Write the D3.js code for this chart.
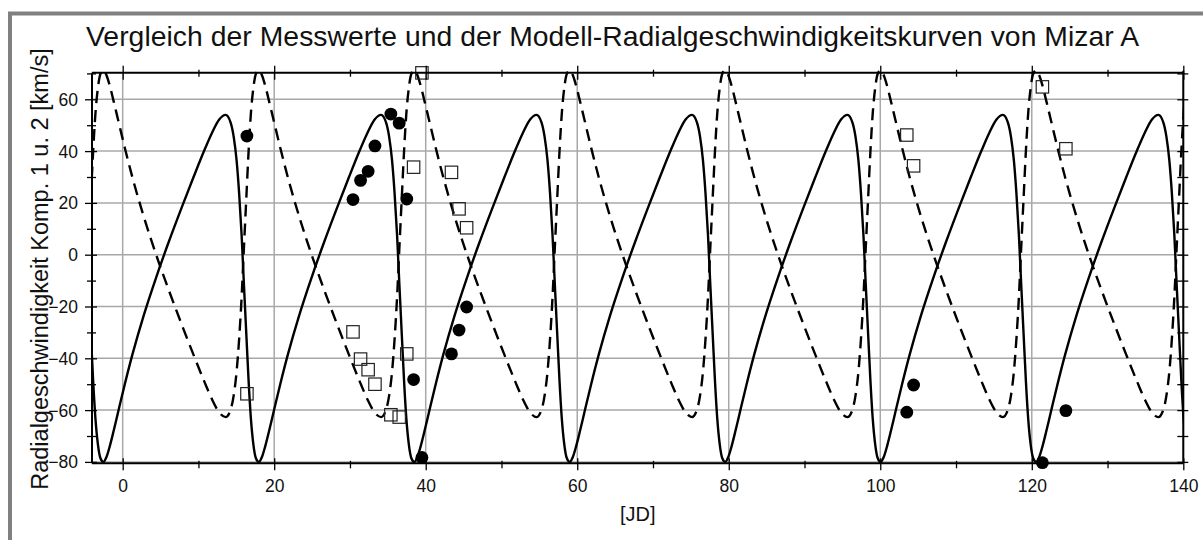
<!DOCTYPE html>
<html><head><meta charset="utf-8">
<script src="https://cdn.jsdelivr.net/npm/d3@7"></script>
<style>
html,body{margin:0;padding:0;background:#fff;}
svg{display:block;}
text{font-family:"Liberation Sans", Arial, sans-serif; fill:#111;}
</style></head><body>
<svg id="chart" width="1203" height="540"></svg>
<script>
const titleText = "Vergleich der Messwerte und der Modell-Radialgeschwindigkeitskurven von Mizar A";
const yLabelText = "Radialgeschwindigkeit Komp. 1 u. 2 [km/s]";
const xLabelText = "[JD]";
const xTicks = [0, 20, 40, 60, 80, 100, 120, 140];
const xMinorTicks = [10, 30, 50, 70, 90, 110, 130];
const yTicks = [-80, -60, -40, -20, 0, 20, 40, 60];
const yMinorTicks = [-70, -50, -30, -10, 10, 30, 50, 70];

// measured radial velocities (filled circles: component 1, open squares: component 2)
const obsJD    = [16.4, 30.4, 31.4, 32.4, 33.3, 35.4, 36.5, 37.5, 38.4, 39.5, 43.4, 44.4, 45.4, 103.5, 104.4, 121.4, 124.5];
const obsComp1 = [45.8, 21.3, 28.7, 32.2, 42.0, 54.3, 50.8, 21.5, -48.2, -78.3, -38.3, -29.1, -20.2, -60.8, -50.3, -80.3, -60.2];
const obsComp2 = [-53.7, -29.8, -40.3, -44.4, -50.0, -61.8, -62.7, -38.3, 33.8, 70.2, 31.8, 17.7, 10.4, 46.2, 34.3, 64.8, 40.9];

const cycleStartJD = [-4.20, 16.32, 36.84, 57.36, 77.88, 98.40, 118.92, 139.44];
const cycleDays  = [0, 0.30, 0.60, 0.93, 1.27, 1.65, 2.06, 2.51, 3.01, 3.56, 4.47, 5.48, 6.97, 8.58, 10.25, 11.92, 13.53, 15.02, 16.03, 16.94, 17.79, 18.44, 18.85, 19.23, 19.57, 19.90, 20.20];
const modelComp1 = [-30.7, -48.6, -63.1, -73.2, -78.6, -80.0, -78.1, -73.8, -68.0, -61.2, -50.1, -38.6, -23.5, -9.1, 4.7, 17.7, 29.8, 40.6, 47.3, 52.2, 54.0, 51.1, 45.6, 36.6, 23.8, 7.5, -11.3];
const modelComp2 = [21.9, 39.9, 54.4, 64.4, 69.9, 71.2, 69.3, 65.1, 59.2, 52.5, 41.4, 29.9, 14.8, 0.3, -13.4, -26.4, -38.5, -49.3, -56.1, -60.9, -62.7, -59.9, -54.4, -45.4, -32.6, -16.3, 2.5];

const svg = d3.select("#chart");
const x = d3.scaleLinear().domain([-4.05, 140]).range([92, 1183.3]);
const y = d3.scaleLinear().domain([-80.54, 70.27]).range([463.3, 72.7]);
const X0 = x.range()[0], X1 = x.range()[1], Y0 = y.range()[0], Y1 = y.range()[1];

// outer grey frame
svg.append("rect").attr("x", 10).attr("y", 13.5).attr("width", 1300).attr("height", 700)
  .attr("fill", "none").attr("stroke", "#808080").attr("stroke-width", 4);

// grid
const grid = svg.append("g").attr("stroke", "#a8a8a8").attr("stroke-width", 1.5);
grid.selectAll("line.v").data(xTicks).join("line")
  .attr("x1", d => x(d)).attr("x2", d => x(d)).attr("y1", Y1).attr("y2", Y0);
grid.selectAll("line.h").data(yTicks).join("line").attr("class", "h")
  .attr("x1", X0).attr("x2", X1).attr("y1", d => y(d)).attr("y2", d => y(d));

// model series
function modelSeries(vals) {
  const pts = [];
  cycleStartJD.forEach(s => cycleDays.forEach((dd, i) => pts.push([s + dd, vals[i]])));
  return pts;
}
svg.append("clipPath").attr("id", "clip").append("rect")
  .attr("x", X0).attr("y", Y1 - 6).attr("width", X1 - X0).attr("height", Y0 - Y1 + 12);
const line = d3.line().x(d => x(d[0])).y(d => y(d[1])).curve(d3.curveMonotoneX);
const curves = svg.append("g").attr("clip-path", "url(#clip)").attr("fill", "none")
  .attr("stroke", "#000").attr("stroke-width", 2.4).attr("stroke-linejoin", "round");
curves.append("path").attr("d", line(modelSeries(modelComp2))).attr("stroke-dasharray", "12,7");
curves.append("path").attr("d", line(modelSeries(modelComp1)));

// measurements
const obs = obsJD.map((d, i) => ({jd: d, v1: obsComp1[i], v2: obsComp2[i]}));
svg.append("g").selectAll("rect").data(obs).join("rect")
  .attr("x", d => x(d.jd) - 6.2).attr("y", d => y(d.v2) - 6.2).attr("width", 12.4).attr("height", 12.4)
  .attr("fill", "none").attr("stroke", "#222").attr("stroke-width", 1.2);
svg.append("g").selectAll("circle").data(obs).join("circle")
  .attr("cx", d => x(d.jd)).attr("cy", d => y(d.v1)).attr("r", 6.4).attr("fill", "#000");

// axes
function styleAxis(g, a, b, horizontal) {
  g.select(".domain").remove();
  g.selectAll(".tick line").attr("stroke", "#000").attr("stroke-width", 1.3)
    .attr(horizontal ? "y1" : "x1", a).attr(horizontal ? "y2" : "x2", b);
}
// bottom
const gb = svg.append("g").attr("transform", `translate(0,${Y0})`)
  .call(d3.axisBottom(x).tickValues(xTicks).tickFormat(d3.format("d")).tickSize(7));
styleAxis(gb, -5, 7, true);
gb.selectAll(".tick text").attr("y", 29).attr("dy", 0).attr("font-size", 17.5).attr("fill", "#111")
  .attr("font-family", "Liberation Sans, Arial, sans-serif");
const gbm = svg.append("g").attr("transform", `translate(0,${Y0})`)
  .call(d3.axisBottom(x).tickValues(xMinorTicks).tickFormat("").tickSize(5));
styleAxis(gbm, -2.5, 5, true);
// top
const gt = svg.append("g").attr("transform", `translate(0,${Y1})`)
  .call(d3.axisTop(x).tickValues(xTicks).tickFormat("").tickSize(7));
styleAxis(gt, -7, 7, true);
const gtm = svg.append("g").attr("transform", `translate(0,${Y1})`)
  .call(d3.axisTop(x).tickValues(xMinorTicks).tickFormat("").tickSize(4));
styleAxis(gtm, -3, 4, true);
// left
const gl = svg.append("g").attr("transform", `translate(${X0},0)`)
  .call(d3.axisLeft(y).tickValues(yTicks).tickFormat(d3.format("d")).tickSize(7));
styleAxis(gl, -7, 5, false);
gl.selectAll(".tick text").attr("x", -14).attr("dy", "0.34em").attr("font-size", 17.5).attr("fill", "#111")
  .attr("font-family", "Liberation Sans, Arial, sans-serif");
const glm = svg.append("g").attr("transform", `translate(${X0},0)`)
  .call(d3.axisLeft(y).tickValues(yMinorTicks).tickFormat("").tickSize(5));
styleAxis(glm, -5, 4, false);
// right
const gr = svg.append("g").attr("transform", `translate(${X1},0)`)
  .call(d3.axisRight(y).tickValues(yTicks.concat(yMinorTicks)).tickFormat("").tickSize(5));
styleAxis(gr, -6, 5, false);

// axis frame lines
const frame = svg.append("g").attr("stroke", "#000").attr("stroke-width", 2);
frame.append("line").attr("x1", X0).attr("x2", X1).attr("y1", Y0).attr("y2", Y0);
frame.append("line").attr("x1", X0).attr("x2", X1).attr("y1", Y1).attr("y2", Y1);
frame.append("line").attr("x1", X0).attr("x2", X0).attr("y1", Y1).attr("y2", Y0);
frame.append("line").attr("x1", X1).attr("x2", X1).attr("y1", Y1 - 2).attr("y2", Y0);

// texts
svg.append("text").attr("x", 86).attr("y", 46).attr("font-size", 28.3)
  .attr("textLength", 1053).attr("lengthAdjust", "spacing").text(titleText);
svg.append("text").attr("transform", "translate(48,269) rotate(-90)").attr("text-anchor", "middle")
  .attr("font-size", 23.5).text(yLabelText);
svg.append("text").attr("x", x(68)).attr("y", 521).attr("text-anchor", "middle")
  .attr("font-size", 20).text(xLabelText);
</script>
</body></html>
